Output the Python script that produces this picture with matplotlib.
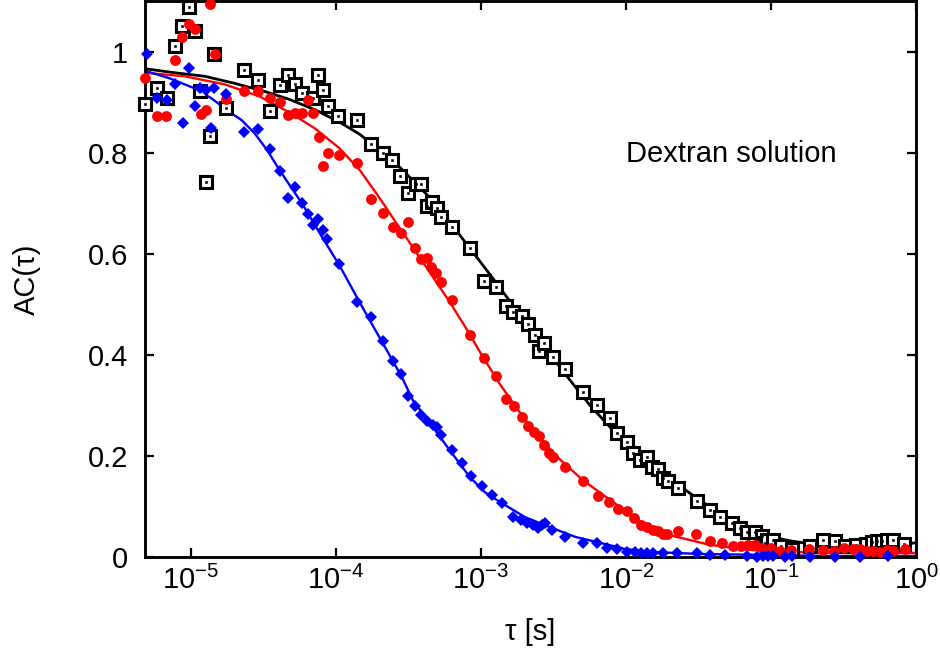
import numpy as np
import matplotlib
matplotlib.use("Agg")
import matplotlib.pyplot as plt
from matplotlib.ticker import LogLocator, NullLocator, LogFormatterSciNotation

plt.rcParams['font.family'] = ['Liberation Sans', 'DejaVu Sans']
plt.rcParams['mathtext.default'] = 'regular'
plt.rcParams['axes.unicode_minus'] = False

# measured autocorrelation, tau given as log10(tau / s)
log_tau_blk = [-5.317, -5.234, -5.166, -5.110, -5.062, -5.014, -4.972, -4.938, -4.897, -4.869,
               -4.841, -4.759, -4.634, -4.538, -4.455, -4.386, -4.331, -4.283, -4.234, -4.159,
               -4.124, -4.090, -4.055, -3.986, -3.855, -3.759, -3.676, -3.614, -3.559, -3.503,
               -3.448, -3.414, -3.372, -3.338, -3.303, -3.276, -3.200, -3.076, -2.979, -2.897,
               -2.828, -2.779, -2.717, -2.676, -2.628, -2.600, -2.566, -2.503, -2.421, -2.297,
               -2.200, -2.110, -2.062, -1.993, -1.952, -1.903, -1.855, -1.821, -1.779, -1.745,
               -1.710, -1.641, -1.510, -1.421, -1.352, -1.269, -1.214, -1.166, -1.110, -1.062,
               -1.041, -1.028, -0.986, -0.931, -0.855, -0.731, -0.641, -0.559, -0.490, -0.414,
               -0.345, -0.303, -0.269, -0.234, -0.200, -0.159, -0.083]
ac_blk = [0.897, 0.927, 0.909, 1.010, 1.051, 1.089, 1.040, 0.921, 0.741, 0.832,
          0.996, 0.889, 0.964, 0.943, 0.883, 0.933, 0.953, 0.935, 0.917, 0.909,
          0.953, 0.923, 0.893, 0.872, 0.864, 0.818, 0.800, 0.785, 0.753, 0.721,
          0.737, 0.737, 0.694, 0.702, 0.690, 0.672, 0.652, 0.611, 0.547, 0.534,
          0.496, 0.484, 0.476, 0.460, 0.439, 0.407, 0.423, 0.395, 0.372, 0.326,
          0.300, 0.275, 0.245, 0.227, 0.206, 0.192, 0.198, 0.178, 0.174, 0.156,
          0.150, 0.136, 0.111, 0.093, 0.079, 0.067, 0.057, 0.049, 0.049, 0.042,
          0.028, 0.034, 0.034, 0.022, 0.016, 0.022, 0.034, 0.032, 0.022, 0.024,
          0.026, 0.030, 0.032, 0.032, 0.034, 0.034, 0.026]

log_tau_red = [-5.317, -5.234, -5.172, -5.110, -5.062, -5.014, -4.972, -4.931, -4.897, -4.869,
               -4.834, -4.759, -4.634, -4.538, -4.455, -4.386, -4.331, -4.283, -4.234, -4.193,
               -4.159, -4.117, -4.090, -4.055, -3.979, -3.855, -3.759, -3.676, -3.607, -3.552,
               -3.503, -3.455, -3.414, -3.372, -3.345, -3.310, -3.276, -3.200, -3.076, -2.979,
               -2.897, -2.828, -2.772, -2.717, -2.676, -2.634, -2.600, -2.566, -2.531, -2.503,
               -2.421, -2.297, -2.193, -2.117, -2.055, -1.993, -1.945, -1.897, -1.855, -1.814,
               -1.779, -1.745, -1.717, -1.641, -1.517, -1.421, -1.338, -1.262, -1.207, -1.159,
               -1.110, -1.062, -1.000, -0.938, -0.862, -0.738, -0.641, -0.566, -0.497, -0.434,
               -0.386, -0.338, -0.297, -0.248, -0.200, -0.159, -0.076]
ac_red = [0.947, 0.872, 0.872, 0.984, 1.028, 1.055, 1.045, 0.877, 0.885, 1.095,
          0.996, 0.907, 0.921, 0.921, 0.909, 0.901, 0.874, 0.879, 0.879, 0.905,
          0.879, 0.830, 0.773, 0.800, 0.796, 0.779, 0.709, 0.680, 0.652, 0.640,
          0.662, 0.611, 0.589, 0.591, 0.573, 0.561, 0.545, 0.508, 0.439, 0.393,
          0.358, 0.312, 0.298, 0.277, 0.259, 0.247, 0.239, 0.221, 0.206, 0.198,
          0.178, 0.150, 0.121, 0.109, 0.095, 0.091, 0.077, 0.063, 0.059, 0.053,
          0.051, 0.045, 0.045, 0.051, 0.045, 0.032, 0.028, 0.022, 0.022, 0.024,
          0.024, 0.018, 0.018, 0.012, 0.014, 0.016, 0.014, 0.012, 0.018, 0.016,
          0.016, 0.012, 0.012, 0.010, 0.014, 0.012, 0.016]

log_tau_blu = [-5.303, -5.234, -5.166, -5.110, -5.055, -5.014, -4.972, -4.938, -4.897, -4.862,
               -4.841, -4.759, -4.634, -4.538, -4.455, -4.386, -4.331, -4.283, -4.234, -4.193,
               -4.159, -4.124, -4.090, -4.062, -3.979, -3.855, -3.759, -3.676, -3.607, -3.552,
               -3.503, -3.455, -3.414, -3.372, -3.331, -3.303, -3.276, -3.200, -3.131, -3.069,
               -2.993, -2.924, -2.855, -2.779, -2.724, -2.683, -2.641, -2.607, -2.579, -2.559,
               -2.510, -2.421, -2.297, -2.200, -2.131, -2.062, -1.993, -1.938, -1.897, -1.855,
               -1.814, -1.745, -1.648, -1.510, -1.421, -1.317, -1.166, -1.097, -1.055, -1.021,
               -0.986, -0.903, -0.855, -0.731, -0.559, -0.386, -0.193]
ac_blu = [0.996, 0.909, 0.905, 0.935, 0.858, 0.968, 0.893, 0.927, 0.923, 0.848,
          0.927, 0.915, 0.840, 0.846, 0.808, 0.763, 0.711, 0.731, 0.700, 0.678,
          0.656, 0.668, 0.646, 0.630, 0.579, 0.504, 0.474, 0.427, 0.387, 0.362,
          0.318, 0.298, 0.281, 0.269, 0.261, 0.257, 0.241, 0.211, 0.186, 0.160,
          0.140, 0.123, 0.107, 0.079, 0.073, 0.067, 0.063, 0.057, 0.063, 0.067,
          0.053, 0.040, 0.028, 0.028, 0.018, 0.016, 0.010, 0.010, 0.008, 0.008,
          0.008, 0.008, 0.008, 0.008, 0.004, 0.004, 0.002, 0.000, 0.002, 0.002,
          0.002, 0.000, 0.002, 0.000, 0.000, 0.000, 0.002]

# fitted curves
fit_log_tau_blk = [-5.317, -5.110, -4.903, -4.697, -4.490, -4.317, -4.145, -3.972, -3.834, -3.676,
                   -3.559, -3.352, -3.214, -3.076, -2.938, -2.800, -2.662, -2.524, -2.386, -2.248,
                   -2.110, -1.972, -1.834, -1.697, -1.559, -1.421, -1.283, -1.145, -1.007, -0.869,
                   -0.731, -0.559, -0.352, -0.179, 0.000]
fit_blk = [0.966, 0.958, 0.951, 0.937, 0.921, 0.905, 0.885, 0.860, 0.836, 0.800,
           0.771, 0.711, 0.662, 0.611, 0.559, 0.506, 0.453, 0.401, 0.350, 0.300,
           0.257, 0.217, 0.184, 0.156, 0.126, 0.099, 0.075, 0.053, 0.040, 0.032,
           0.026, 0.022, 0.022, 0.024, 0.028]

fit_log_tau_red = [-5.317, -5.041, -4.766, -4.524, -4.317, -4.145, -3.972, -3.834, -3.710, -3.586,
                   -3.455, -3.338, -3.214, -3.103, -2.993, -2.869, -2.752, -2.628, -2.490, -2.297,
                   -2.110, -1.903, -1.697, -1.421, -1.145, -0.869, -0.455, 0.000]
fit_red = [0.958, 0.951, 0.935, 0.911, 0.879, 0.848, 0.808, 0.765, 0.715, 0.662,
           0.607, 0.557, 0.504, 0.453, 0.399, 0.342, 0.294, 0.247, 0.202, 0.152,
           0.113, 0.071, 0.043, 0.024, 0.014, 0.010, 0.008, 0.008]

fit_log_tau_blu = [-5.317, -5.145, -4.972, -4.855, -4.745, -4.648, -4.559, -4.476, -4.400, -4.331,
                   -4.234, -4.110, -3.979, -3.855, -3.766, -3.676, -3.545, -3.469, -3.352, -3.214,
                   -3.076, -2.972, -2.869, -2.697, -2.524, -2.352, -2.179, -2.007, -1.834, -1.490,
                   -1.028, -0.593, 0.000]
fit_blu = [0.962, 0.947, 0.927, 0.907, 0.883, 0.864, 0.838, 0.806, 0.771, 0.741,
           0.700, 0.640, 0.579, 0.514, 0.468, 0.423, 0.356, 0.310, 0.265, 0.211,
           0.158, 0.128, 0.109, 0.079, 0.059, 0.040, 0.028, 0.016, 0.010, 0.006,
           0.004, 0.002, 0.002]

fig = plt.figure(figsize=(9.4, 6.51), dpi=100)
ax = fig.add_axes([0.154, 0.1444, 0.8206, 0.8541])

# fits
ax.plot(10**np.array(fit_log_tau_blk), fit_blk, color='black', lw=2.0, zorder=2)
ax.plot(10**np.array(fit_log_tau_red), fit_red, color='#ff0000', lw=1.7, zorder=2)
ax.plot(10**np.array(fit_log_tau_blu), fit_blu, color='#0000ff', lw=1.7, zorder=2)

# data
ax.plot(10**np.array(log_tau_blk), ac_blk, ls='none', marker='s', ms=8, mfc='white',
        mec='black', mew=2.2, clip_on=False, zorder=3)
ax.plot(10**np.array(log_tau_blk), ac_blk, ls='none', marker='s', ms=1.7, mfc='black',
        mec='black', mew=0.4, clip_on=False, zorder=3)
ax.plot(10**np.array(log_tau_red), ac_red, ls='none', marker='o', ms=7.8, color='#ff0000',
        mew=0, clip_on=False, zorder=4)
ax.plot(10**np.array(log_tau_blu), ac_blu, ls='none', marker='D', ms=6.0, color='#0000ff',
        mew=0, clip_on=False, zorder=5)

ax.set_xscale('log')
ax.set_xlim(4.82e-6, 1.0)
ax.set_ylim(0, 1.1)
ax.xaxis.set_major_locator(LogLocator(base=10, numticks=10))
ax.xaxis.set_major_formatter(LogFormatterSciNotation())
ax.xaxis.set_minor_locator(NullLocator())
ax.set_yticks([0, 0.2, 0.4, 0.6, 0.8, 1.0])
ax.set_yticklabels(['0', '0.2', '0.4', '0.6', '0.8', '1'])

ax.tick_params(which='major', direction='in', length=6.5, width=1.6, top=True, right=True,
               labelsize=21)
ax.tick_params(axis='y', pad=12)
ax.tick_params(axis='x', pad=6)
for sp in ax.spines.values():
    sp.set_linewidth(2.1)

ax.set_xlabel('τ [s]', fontsize=21)
ax.set_ylabel('AC(τ)', fontsize=21)
ax.xaxis.set_label_coords(0.5, -0.110)
ax.yaxis.set_label_coords(-0.134, 0.5)
ax.text(0.624, 0.725, 'Dextran solution', transform=ax.transAxes, fontsize=21,
        ha='left', va='center')

fig.savefig('out.png', dpi=100)
